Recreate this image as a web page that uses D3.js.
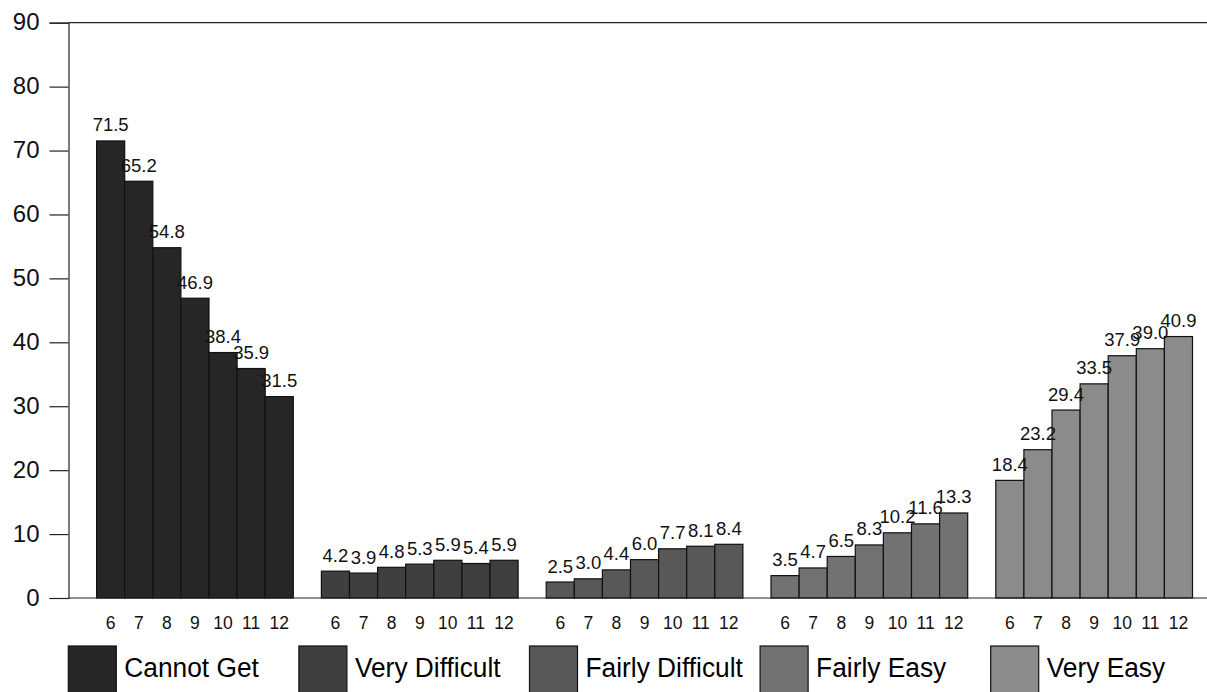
<!DOCTYPE html>
<html>
<head>
<meta charset="utf-8">
<script src="https://cdn.jsdelivr.net/npm/d3@7"></script>
<style>
  html, body { margin: 0; padding: 0; background: #fff; }
  svg { display: block; font-family: "Liberation Sans", Arial, sans-serif; }
</style>
</head>
<body>
<svg id="chart" width="1207" height="692"></svg>
<script>
const categories = ["Cannot Get", "Very Difficult", "Fairly Difficult", "Fairly Easy", "Very Easy"];
const grades = ["6", "7", "8", "9", "10", "11", "12"];
const cannotGet = [71.5, 65.2, 54.8, 46.9, 38.4, 35.9, 31.5];
const veryDifficult = [4.2, 3.9, 4.8, 5.3, 5.9, 5.4, 5.9];
const fairlyDifficult = [2.5, 3.0, 4.4, 6.0, 7.7, 8.1, 8.4];
const fairlyEasy = [3.5, 4.7, 6.5, 8.3, 10.2, 11.6, 13.3];
const veryEasy = [18.4, 23.2, 29.4, 33.5, 37.9, 39.0, 40.9];
const yTicks = [0, 10, 20, 30, 40, 50, 60, 70, 80, 90];

const seriesValues = [cannotGet, veryDifficult, fairlyDifficult, fairlyEasy, veryEasy];
const colors = ["#262626", "#3f3f3f", "#585858", "#727272", "#8b8b8b"];

(function () {
const svg = d3.select("#chart");
const W = 1207;
const mLeft = 68.5, mRight = 1192.5, mTop = 22.7, mBottom = 598;

const x0 = d3.scaleBand().domain(categories).range([mLeft, mRight]).paddingInner(0).paddingOuter(0);
const bw = x0.bandwidth();
const x1 = d3.scaleBand().domain(grades).range([bw / 8, bw]).padding(0);
const y = d3.scaleLinear().domain([0, 90]).range([mBottom, mTop]);

// top border
svg.append("line")
  .attr("x1", mLeft).attr("x2", W).attr("y1", y(90)).attr("y2", y(90))
  .attr("stroke", "#222").attr("stroke-width", 1.2);

// groups
const groups = svg.selectAll("g.grp")
  .data(categories.map((c, i) => ({ cat: c, vals: seriesValues[i], color: colors[i] })))
  .join("g").attr("class", "grp")
  .attr("transform", d => `translate(${x0(d.cat)},0)`);

groups.selectAll("rect")
  .data(d => d.vals.map((v, j) => ({ g: grades[j], v, color: d.color })))
  .join("rect")
  .attr("x", d => x1(d.g))
  .attr("y", d => y(d.v))
  .attr("width", x1.bandwidth())
  .attr("height", d => y(0) - y(d.v))
  .attr("fill", d => d.color)
  .attr("stroke", "#111")
  .attr("stroke-width", 1.2);

groups.selectAll("text.val")
  .data(d => d.vals.map((v, j) => ({ g: grades[j], v })))
  .join("text").attr("class", "val")
  .attr("x", d => x1(d.g) + x1.bandwidth() / 2)
  .attr("y", d => y(d.v) - 9.5)
  .attr("text-anchor", "middle")
  .attr("font-size", 18.5)
  .attr("fill", "#111")
  .text(d => d.v.toFixed(1));

// grade axis per group
groups.append("g")
  .attr("transform", `translate(0,${mBottom})`)
  .call(d3.axisBottom(x1).tickSize(0).tickPadding(19))
  .call(g => g.select(".domain").remove())
  .call(g => g.selectAll("text").attr("font-size", 17.5).attr("fill", "#111").attr("font-family", null));

// x axis line
svg.append("line")
  .attr("x1", mLeft).attr("x2", W).attr("y1", mBottom).attr("y2", mBottom)
  .attr("stroke", "#222").attr("stroke-width", 1.2);

// y axis
svg.append("g")
  .attr("transform", `translate(${mLeft},0)`)
  .call(d3.axisLeft(y).tickValues(yTicks).tickSize(19).tickPadding(10).tickFormat(d3.format("d")))
  .call(g => g.select(".domain").attr("stroke", "#222").attr("stroke-width", 1.2))
  .call(g => g.selectAll(".tick line").attr("stroke", "#222").attr("stroke-width", 1.2))
  .call(g => g.selectAll("text").attr("font-size", 24).attr("fill", "#111").attr("font-family", null).attr("dy", "0.30em"));

// legend
const legend = svg.selectAll("g.leg")
  .data(categories.map((c, i) => ({ cat: c, color: colors[i], i })))
  .join("g").attr("class", "leg")
  .attr("transform", d => `translate(${68.3 + d.i * 230.6},646)`);
legend.append("rect")
  .attr("x", 0).attr("y", 0).attr("width", 48).attr("height", 52)
  .attr("fill", d => d.color).attr("stroke", "#111").attr("stroke-width", 1.2);
legend.append("text")
  .attr("transform", "translate(56,31) scale(0.94,1)")
  .attr("font-size", 28)
  .attr("fill", "#000")
  .text(d => d.cat);
})();
</script>
</body>
</html>
